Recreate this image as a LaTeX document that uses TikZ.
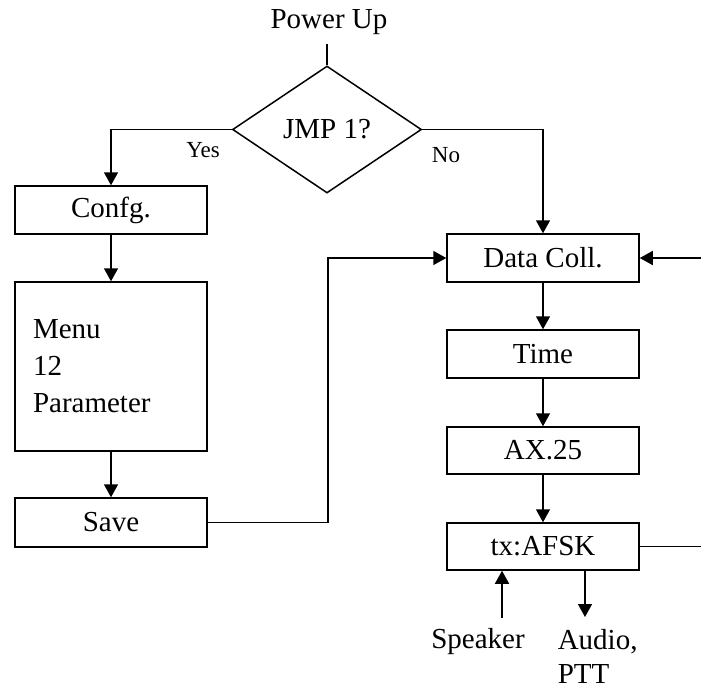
\documentclass[tikz,border=0pt]{standalone}
\usepackage{fontspec}
\setmainfont{Liberation Serif}
\usetikzlibrary{shapes.geometric,arrows.meta}
\begin{document}
\begin{tikzpicture}[x=1pt,y=-1pt,
  line width=1.5pt,
  every node/.style={font=\fontsize{29}{37}\selectfont},
  box/.style={draw,rectangle,minimum width=192pt,minimum height=48pt,inner sep=0pt},
  arr/.style={-{Triangle[length=13pt,width=14pt]}},
  small/.style={font=\fontsize{23}{25}\selectfont,inner sep=0pt}]
\useasboundingbox (0,0) rectangle (701,691);
\node[inner sep=0pt] (power) at (329,22) {Power Up};
\node[draw,diamond,minimum width=189pt,minimum height=127pt,inner sep=0pt,aspect=1.49] (jmp) at (327,129.5) {JMP 1?\hspace{16pt}};
\node[box] (confg) at (111,210) {Confg.};
\node[box,minimum height=169pt,text width=156pt,inner xsep=18pt,align=left] (menu) at (111,366.5) {Menu\\12\\Parameter};
\node[box,minimum height=49pt] (save) at (111,522.5) {Save};
\node[box] (data) at (543,258) {Data Coll.};
\node[box] (time) at (543,354) {Time};
\node[box,minimum height=47pt] (ax) at (543,450.5) {AX.25};
\node[box,minimum height=47pt] (tx) at (543,546.5) {tx:AFSK};
\node[inner sep=0pt] (speaker) at (478,642) {Speaker};
\node[inner sep=0pt,align=left,anchor=west,font=\fontsize{29}{34}\selectfont] (audio) at (557,656) {Audio,\\PTT};
\node[small] (yes) at (203,150) {Yes};
\node[small] (no) at (446,155) {No};
\coordinate (spk) at (502,618);
\coordinate (aud) at (585,617);
\coordinate (r1) at (701,258);
\coordinate (r2) at (701,546.5);
\draw (power.south -| jmp.north) ++(0,9) -- (jmp.north);
\draw[arr] (jmp.west) -| (confg.north);
\draw[arr] (jmp.east) -| (data.north);
\draw[arr] (confg) -- (menu);
\draw[arr] (menu) -- (save);
\draw[arr] (save.east) -- ++(120,0) |- (data.west);
\draw[arr] (data) -- (time);
\draw[arr] (time) -- (ax);
\draw[arr] (ax) -- (tx);
\draw[arr] (r1) -- (data.east);
\draw (tx.east) -- (r2);
\draw[arr] (spk) -- (spk |- tx.south);
\draw[arr] (aud |- tx.south) -- (aud);
\end{tikzpicture}
\end{document}
